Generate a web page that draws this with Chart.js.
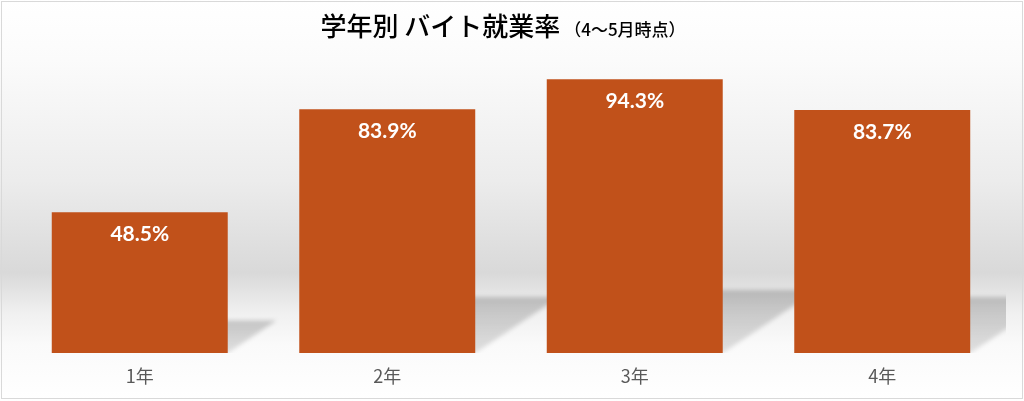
<!DOCTYPE html>
<html>
<head>
<meta charset="utf-8">
<script src="https://cdn.jsdelivr.net/npm/chart.js@4.4.1/dist/chart.umd.min.js"></script>
<style>
  html, body { margin: 0; padding: 0; background: #ffffff; }
  #wrap { position: relative; width: 1024px; height: 401px; }
</style>
</head>
<body>
<div id="wrap"><canvas id="c"></canvas></div>
<script>
// ---- data ----
const categories = ['1年', '2年', '3年', '4年'];
const rates = [48.5, 83.9, 94.3, 83.7];
const titleMain = '学年別 バイト就業率';
const titleSub = '（4～5月時点）';
const yMin = 0;
const yMax = 100;

const barColor = '#C1511A';

const backgroundPlugin = {
  id: 'bg',
  beforeDraw(chart) {
    const { ctx, width, height } = chart;
    ctx.save();
    const g = ctx.createLinearGradient(0, 0, 0, height);
    g.addColorStop(0.00, '#ffffff');
    g.addColorStop(0.15, '#fbfbfb');
    g.addColorStop(0.45, '#ececec');
    g.addColorStop(0.68, '#d9d9d9');
    g.addColorStop(0.72, '#e2e2e2');
    g.addColorStop(0.78, '#f0f0f0');
    g.addColorStop(0.86, '#fafafa');
    g.addColorStop(1.00, '#ffffff');
    ctx.fillStyle = g;
    ctx.fillRect(0, 0, width, height);
    ctx.strokeStyle = '#d9d9d9';
    ctx.lineWidth = 1;
    ctx.strokeRect(1.5, 1.5, width - 3, height - 4);
    ctx.restore();
  }
};

const shadowPlugin = {
  id: 'barShadow',
  beforeDatasetsDraw(chart) {
    const { ctx, chartArea } = chart;
    const meta = chart.getDatasetMeta(0);
    ctx.save();
    ctx.beginPath();
    ctx.rect(chartArea.left, chartArea.top, chartArea.right - chartArea.left, chartArea.bottom - chartArea.top);
    ctx.clip();
    ctx.filter = 'blur(2px)';
    meta.data.forEach(bar => {
      const p = bar.getProps(['x', 'y', 'base', 'width'], true);
      const h = p.base - p.y;
      const sh = 0.23 * h;
      const dx = 1.5 * sh;
      const x0 = p.x - p.width / 2, x1 = p.x + p.width / 2;
      const g = ctx.createLinearGradient(0, p.base - sh, 0, p.base);
      g.addColorStop(0, 'rgba(0,0,0,0.19)');
      g.addColorStop(1, 'rgba(0,0,0,0.11)');
      ctx.fillStyle = g;
      ctx.beginPath();
      ctx.moveTo(x0, p.base);
      ctx.lineTo(x1, p.base);
      ctx.lineTo(x1 + dx, p.base - sh);
      ctx.lineTo(x0 + dx, p.base - sh);
      ctx.closePath();
      ctx.fill();
    });
    ctx.restore();
  }
};

const labelPlugin = {
  id: 'valueLabels',
  afterDatasetsDraw(chart) {
    const { ctx } = chart;
    const meta = chart.getDatasetMeta(0);
    ctx.save();
    ctx.fillStyle = '#ffffff';
    ctx.font = 'bold 21px Lato, "Noto Sans", sans-serif';
    ctx.textAlign = 'center';
    ctx.textBaseline = 'middle';
    meta.data.forEach((bar, i) => {
      const p = bar.getProps(['x', 'y'], true);
      ctx.fillText(rates[i].toFixed(1) + '%', p.x, p.y + 22);
    });
    ctx.restore();
  }
};

const titlePlugin = {
  id: 'twoPartTitle',
  afterDraw(chart) {
    const { ctx, width } = chart;
    ctx.save();
    ctx.fillStyle = '#000000';
    ctx.textBaseline = 'alphabetic';
    ctx.textAlign = 'left';
    const fMain = '500 26px "Noto Sans CJK JP", sans-serif';
    const fSub = '500 17px "Noto Sans CJK JP", sans-serif';
    ctx.font = fMain;
    const wMain = ctx.measureText(titleMain).width;
    ctx.font = fSub;
    const wSub = ctx.measureText(titleSub).width;
    const gap = 4;
    const total = wMain + gap + wSub;
    const x = width / 2 - total / 2 - 9;
    ctx.font = fMain;
    ctx.fillText(titleMain, x, 36);
    ctx.font = fSub;
    ctx.fillText(titleSub, x + wMain + gap, 36);
    ctx.restore();
  }
};

new Chart(document.getElementById('c'), {
  type: 'bar',
  data: {
    labels: categories,
    datasets: [{
      data: rates,
      backgroundColor: barColor,
      borderWidth: 0,
      barPercentage: 0.711,
      categoryPercentage: 1.0
    }]
  },
  options: {
    responsive: true,
    maintainAspectRatio: false,
    animation: false,
    layout: { padding: { left: 16, right: 18, top: 62.6, bottom: 2.4 } },
    plugins: {
      legend: { display: false },
      title: { display: false },
      tooltip: { enabled: false }
    },
    scales: {
      x: {
        grid: { display: false, drawTicks: false, tickLength: 0 },
        border: { display: false },
        ticks: {
          color: '#595959',
          font: { family: '"Noto Sans CJK JP", sans-serif', size: 18 },
          padding: 12
        }
      },
      y: {
        display: false,
        min: yMin,
        max: yMax
      }
    }
  },
  plugins: [backgroundPlugin, shadowPlugin, labelPlugin, titlePlugin]
});
</script>
</body>
</html>
